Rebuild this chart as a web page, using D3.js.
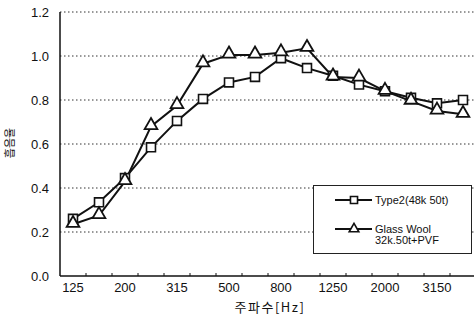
<!DOCTYPE html>
<html>
<head>
<meta charset="utf-8">
<script src="https://cdn.jsdelivr.net/npm/d3@7"></script>
<style>
  body { margin: 0; background: #fff; }
  svg { display: block; }
  text { font-family: "Liberation Sans", Arial, sans-serif; fill: #111; }
</style>
</head>
<body>
<div id="chart"></div>
<script>
// 1/3 octave centre frequencies
const freqs = [125, 160, 200, 250, 315, 400, 500, 630, 800, 1000, 1250, 1600, 2000, 2500, 3150, 4000];
const tickLabels = [125, 200, 315, 500, 800, 1250, 2000, 3150];
const yTicks = [0, 0.2, 0.4, 0.6, 0.8, 1.0, 1.2];

const type2 = [0.26, 0.335, 0.445, 0.585, 0.705, 0.805, 0.88, 0.905, 0.99, 0.945, 0.91, 0.87, 0.84, 0.81, 0.785, 0.80];
const glassWool = [0.235, 0.275, 0.43, 0.68, 0.775, 0.965, 1.005, 1.005, 1.015, 1.035, 0.905, 0.90, 0.84, 0.795, 0.75, 0.735];

const seriesNames = ["Type2(48k 50t)", "Glass Wool"];

const width = 474, height = 325;
const margin = {top: 12, right: 0, bottom: 49, left: 60};

const svg = d3.select("#chart").append("svg")
  .attr("width", width)
  .attr("height", height);

const x = d3.scaleBand()
  .domain(freqs)
  .range([margin.left, 476]);

const y = d3.scaleLinear()
  .domain([0, 1.2])
  .range([height - margin.bottom, margin.top]);

const cx = f => x(f) + x.bandwidth() / 2;

// dotted grid
svg.append("g")
  .selectAll("line")
  .data(yTicks.filter(d => d > 0))
  .join("line")
    .attr("x1", margin.left)
    .attr("x2", width)
    .attr("y1", d => y(d))
    .attr("y2", d => y(d))
    .attr("stroke", "#333")
    .attr("stroke-width", 1)
    .attr("stroke-dasharray", "1.5,2.5");

// y axis
svg.append("line")
  .attr("x1", margin.left).attr("x2", margin.left)
  .attr("y1", y(1.2)).attr("y2", y(0))
  .attr("stroke", "#111").attr("stroke-width", 1.5);

svg.append("g")
  .selectAll("text")
  .data(yTicks)
  .join("text")
    .attr("x", 49)
    .attr("y", d => y(d))
    .attr("dy", "0.35em")
    .attr("text-anchor", "end")
    .style("font-size", "13px")
    .text(d => d.toFixed(1));

// x axis
svg.append("line")
  .attr("x1", margin.left).attr("x2", width)
  .attr("y1", y(0)).attr("y2", y(0))
  .attr("stroke", "#111").attr("stroke-width", 1.5);

svg.append("g")
  .selectAll("line")
  .data(freqs.slice(1))
  .join("line")
    .attr("x1", d => x(d))
    .attr("x2", d => x(d))
    .attr("y1", y(0))
    .attr("y2", y(0) - 3)
    .attr("stroke", "#111");

svg.append("g")
  .selectAll("text")
  .data(tickLabels)
  .join("text")
    .attr("x", d => cx(d))
    .attr("y", 292)
    .attr("text-anchor", "middle")
    .style("font-size", "13px")
    .text(d => d);

svg.append("text")
  .attr("x", 270)
  .attr("y", 312)
  .attr("text-anchor", "middle")
  .style("font-size", "13px")
  .style("letter-spacing", "1.5px")
  .style("font-family", "'Noto Sans CJK KR', sans-serif")
  .text("주파수[Hz]");

svg.append("text")
  .attr("transform", "translate(14,143) rotate(-90)")
  .attr("text-anchor", "middle")
  .style("font-size", "11px")
  .style("font-family", "'Noto Sans CJK KR', sans-serif")
  .text("흡음율");

// lines
const line = d3.line()
  .x((d, i) => cx(freqs[i]))
  .y(d => y(d));

[type2, glassWool].forEach(s => {
  svg.append("path")
    .datum(s)
    .attr("fill", "none")
    .attr("stroke", "#111")
    .attr("stroke-width", 2)
    .attr("d", line);
});

const square = d3.symbol().type(d3.symbolSquare).size(80);
const triangle = d3.symbol().type(d3.symbolTriangle).size(70);

svg.append("g")
  .selectAll("path")
  .data(type2)
  .join("path")
    .attr("transform", (d, i) => `translate(${cx(freqs[i])},${y(d)})`)
    .attr("d", square)
    .attr("fill", "#fff")
    .attr("stroke", "#111")
    .attr("stroke-width", 1.6);

svg.append("g")
  .selectAll("path")
  .data(glassWool)
  .join("path")
    .attr("transform", (d, i) => `translate(${cx(freqs[i])},${y(d) - 1})`)
    .attr("d", triangle)
    .attr("fill", "#fff")
    .attr("stroke", "#111")
    .attr("stroke-width", 1.8);

// legend
const lg = svg.append("g");
lg.append("rect")
  .attr("x", 313.5).attr("y", 185.5)
  .attr("width", 158).attr("height", 68)
  .attr("fill", "#fff")
  .attr("stroke", "#222")
  .attr("stroke-width", 1);

const legendRows = [200, 229];
legendRows.forEach((ry, i) => {
  lg.append("line")
    .attr("x1", 335).attr("x2", 372)
    .attr("y1", ry).attr("y2", ry)
    .attr("stroke", "#111").attr("stroke-width", 1.8);
  lg.append("path")
    .attr("transform", `translate(354,${ry})`)
    .attr("d", i === 0 ? d3.symbol().type(d3.symbolSquare).size(50)() : d3.symbol().type(d3.symbolTriangle).size(40)())
    .attr("fill", "#fff")
    .attr("stroke", "#111")
    .attr("stroke-width", 1.6);
  lg.append("text")
    .attr("x", 375)
    .attr("y", ry)
    .attr("dy", "0.35em")
    .style("font-size", "11px")
    .text(seriesNames[i]);
});
lg.append("text")
  .attr("x", 375)
  .attr("y", 240)
  .attr("dy", "0.35em")
  .style("font-size", "11px")
  .text("32k.50t+PVF");
</script>
</body>
</html>
